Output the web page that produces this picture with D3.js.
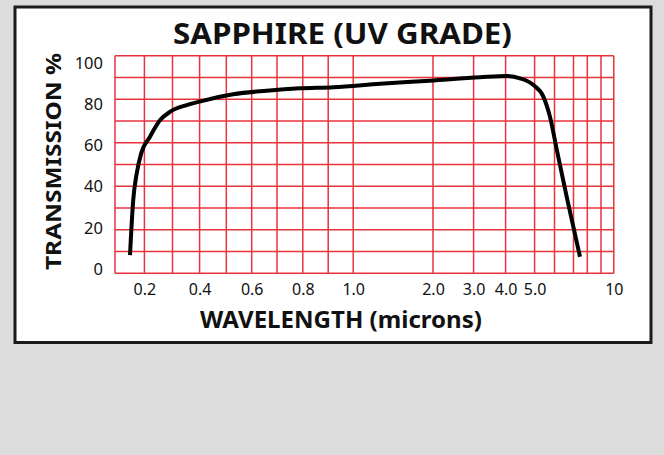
<!DOCTYPE html>
<html lang="en">

<head>
	<meta charset="UTF-8">
	<title>Sapphire (UV grade)</title>
	<script src="https://d3js.org/d3.v7.min.js"></script>
	<style>
		body {
			margin: 0;
			padding: 0;
			background-color: #dcdcdc;
		}

		text {
			font-family: "Noto Sans", "Open Sans", sans-serif;
			fill: #111;
		}
	</style>
</head>

<body>
	<div id="chart"></div>
	<script>
		// wavelength (microns) and transmission (%)
		const wavelength = [0.151, 0.162, 0.174, 0.189, 0.22, 0.256, 0.292, 0.352, 0.4, 0.527, 0.659, 0.788, 0.921,
			1.34, 1.96, 3.2, 4.04, 4.5, 4.96, 5.44, 5.77, 6.12, 6.64, 7.47];
		const transmission = [8.4, 33.7, 46.0, 55.1, 62.8, 70.4, 74.3, 77.3, 78.9, 82.3, 83.9, 85.0, 85.5,
			87.1, 88.5, 90.1, 90.7, 89.6, 86.5, 81.2, 72.0, 56.8, 35.2, 7.6];

		// vertical grid lines (the x axis is hand drawn, not a true log scale)
		const xGrid = [0.1, 0.2, 0.3, 0.4, 0.5, 0.6, 0.7, 0.8, 0.9, 1, 2, 3, 4, 5, 6, 7, 8, 9, 10];
		const xTickValues = [0.2, 0.4, 0.6, 0.8, 1, 2, 3, 4, 5, 10];
		const xTickLabels = ["0.2", "0.4", "0.6", "0.8", "1.0", "2.0", "3.0", "4.0", "5.0", "10"];
		const yGrid = [0, 10, 20, 30, 40, 50, 60, 70, 80, 90, 100];
		const yTickLabels = [0, 20, 40, 60, 80, 100];

		const width = 664;
		const height = 455;

		const plot = { left: 115, right: 613.8, top: 55.7, bottom: 273.3 };

		// pixel offset of each grid line from the plot's left edge
		const xKnots = [0, 29.4, 57.5, 84.6, 111.3, 136.7, 162, 187.8, 213.2, 238.2, 318, 358.6, 390.6, 419.6, 439.5, 458.5, 472.3, 486, 498.8];

		const x = d3.scaleLinear()
			.domain(xGrid)
			.range(xKnots.map(k => plot.left + k));

		const y = d3.scaleLinear()
			.domain([0, 100])
			.range([plot.bottom, plot.top]);

		// the printed tick labels sit a little inside the grid
		const yLabel = d3.scaleLinear()
			.domain([0, 100])
			.range([269, 63]);

		const svg = d3.select("#chart")
			.append("svg")
			.attr("width", width)
			.attr("height", height);

		// white panel with black frame
		svg.append("rect")
			.attr("x", 15)
			.attr("y", 7)
			.attr("width", 636)
			.attr("height", 335.5)
			.attr("fill", "white")
			.attr("stroke", "#1a1a1a")
			.attr("stroke-width", 3);

		svg.append("text")
			.attr("x", 342.5)
			.attr("y", 44)
			.attr("text-anchor", "middle")
			.attr("textLength", 339)
			.attr("lengthAdjust", "spacingAndGlyphs")
			.style("font-size", "29px")
			.style("font-weight", "bold")
			.text("SAPPHIRE (UV GRADE)");

		const grid = svg.append("g")
			.attr("stroke", "#e8323c")
			.attr("stroke-width", 1.5);

		grid.selectAll("line.v")
			.data(xGrid)
			.enter().append("line")
			.attr("class", "v")
			.attr("x1", d => x(d))
			.attr("x2", d => x(d))
			.attr("y1", plot.top)
			.attr("y2", plot.bottom);

		grid.selectAll("line.h")
			.data(yGrid)
			.enter().append("line")
			.attr("class", "h")
			.attr("x1", plot.left)
			.attr("x2", plot.right)
			.attr("y1", d => y(d))
			.attr("y2", d => y(d));

		// x axis labels
		const xAxis = d3.axisBottom(x)
			.tickValues(xTickValues)
			.tickFormat((d, i) => xTickLabels[i])
			.tickSize(0)
			.tickPadding(0);

		const gx = svg.append("g")
			.attr("transform", `translate(0, 295)`)
			.call(xAxis);
		gx.select(".domain").remove();
		gx.selectAll("text")
			.attr("dy", null)
			.attr("y", 0)
			.style("font-size", "16px")
			.style("font-family", null);

		// y axis labels
		const yAxis = d3.axisLeft(yLabel)
			.tickValues(yTickLabels)
			.tickSize(0)
			.tickPadding(0);

		const gy = svg.append("g")
			.attr("transform", `translate(${plot.left - 12}, 0)`)
			.call(yAxis);
		gy.select(".domain").remove();
		gy.selectAll("text")
			.style("font-size", "16.5px")
			.style("font-family", null);

		svg.append("text")
			.attr("x", 341)
			.attr("y", 328)
			.attr("text-anchor", "middle")
			.attr("textLength", 282)
			.attr("lengthAdjust", "spacingAndGlyphs")
			.style("font-size", "24px")
			.style("font-weight", "bold")
			.text("WAVELENGTH (microns)");

		svg.append("text")
			.attr("transform", "translate(61, 161.5) rotate(-90)")
			.attr("text-anchor", "middle")
			.attr("textLength", 217)
			.attr("lengthAdjust", "spacingAndGlyphs")
			.style("font-size", "22px")
			.style("font-weight", "bold")
			.text("TRANSMISSION %");

		// transmission curve
		const points = wavelength.map((w, i) => [w, transmission[i]]);

		const line = d3.line()
			.x(d => x(d[0]))
			.y(d => y(d[1]))
			.curve(d3.curveMonotoneX);

		svg.append("path")
			.datum(points)
			.attr("fill", "none")
			.attr("stroke", "black")
			.attr("stroke-width", 4)
			.attr("d", line);
	</script>

</body>

</html>
